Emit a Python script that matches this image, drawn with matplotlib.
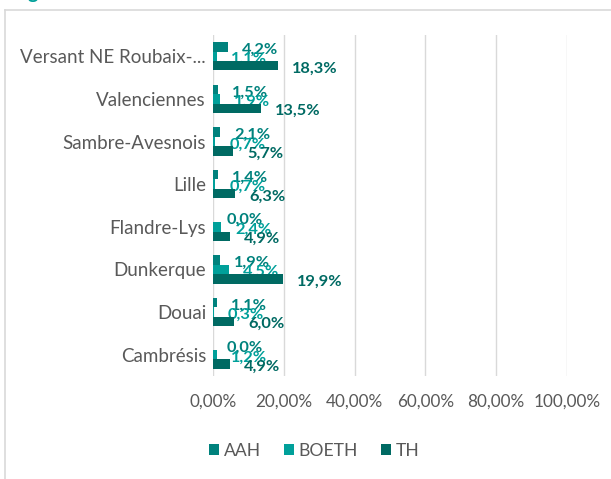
import numpy as np
import matplotlib
matplotlib.use("Agg")
import matplotlib.pyplot as plt
from matplotlib.lines import Line2D

# Territoires (top to bottom) and shares per scheme, in %
territoires = ["Versant NE Roubaix-...", "Valenciennes", "Sambre-Avesnois", "Lille",
               "Flandre-Lys", "Dunkerque", "Douai", "Cambrésis"]
aah = [4.2, 1.5, 2.1, 1.4, 0.0, 1.9, 1.1, 0.0]
boeth = [1.1, 1.9, 0.7, 0.7, 2.4, 4.5, 0.3, 1.2]
th = [18.3, 13.5, 5.7, 6.3, 4.9, 19.9, 6.0, 4.9]

series_names = ["AAH", "BOETH", "TH"]
bar_colors = ["#00827d", "#00a09a", "#006a63"]

xticks = [0, 20, 40, 60, 80, 100]
xticklabels = ["0,00%", "20,00%", "40,00%", "60,00%", "80,00%", "100,00%"]

plt.rcParams['font.family'] = ['Lato', 'DejaVu Sans']

fig = plt.figure(figsize=(6.11, 4.79), dpi=100)
ax = fig.add_axes([213 / 611, 1 - 376 / 479, (567 - 213) / 611, (376 - 35) / 479])

n = len(territoires)
y = np.arange(n)[::-1].astype(float)
h = 0.22
offsets = [-h, 0.0, h]  # AAH on top, TH at the bottom of each group

for vals, name, col, off in zip([aah, boeth, th], series_names, bar_colors, offsets):
    ypos = y - off
    ax.barh(ypos, vals, height=h, color=col, label=name, zorder=3)
    # value labels sit just past the bar end, underneath the bars
    for v, yy in zip(vals, ypos):
        ax.annotate(f"{v:.1f}%".replace(".", ","), xy=(v, yy), xytext=(10, -2),
                    textcoords="offset points", ha="left", va="center",
                    fontsize=11.8, color=col, fontweight="bold", zorder=2)

ax.set_xlim(0, 100)
ax.set_ylim(-0.5, n - 0.5)
ax.set_xticks(xticks)
ax.set_xticklabels(xticklabels, fontsize=12.3, color="#595959")
ax.set_yticks(y)
ax.set_yticklabels(territoires, fontsize=13.5, color="#595959")
ax.tick_params(length=0)
ax.tick_params(axis="x", pad=13)
ax.tick_params(axis="y", pad=5)
ax.grid(axis="x", color="#d9d9d9", linewidth=1, zorder=0)
for s in ax.spines.values():
    s.set_visible(False)

handles, labels = ax.get_legend_handles_labels()
fig.legend(handles, labels, loc="center", bbox_to_anchor=(314 / 611, 1 - 451 / 479),
           ncol=3, frameon=False, fontsize=12.6, handlelength=0.6, handleheight=0.6,
           handletextpad=0.25, columnspacing=1.3, labelcolor="#595959")

# chart frame, running off the right and bottom edges
fig.add_artist(Line2D([5 / 611, 1.0], [1 - 10 / 479] * 2, color="#d9d9d9",
                      linewidth=1.2, transform=fig.transFigure))
fig.add_artist(Line2D([5 / 611] * 2, [0.0, 1 - 10 / 479], color="#d9d9d9",
                      linewidth=1.2, transform=fig.transFigure))

# bottom of the heading above the frame
fig.text(28 / 611, 1 + 1 / 479, "g", fontsize=14, fontweight="bold",
         color="#00a09a", va="baseline", ha="left")

fig.savefig("out.png", dpi=100)
